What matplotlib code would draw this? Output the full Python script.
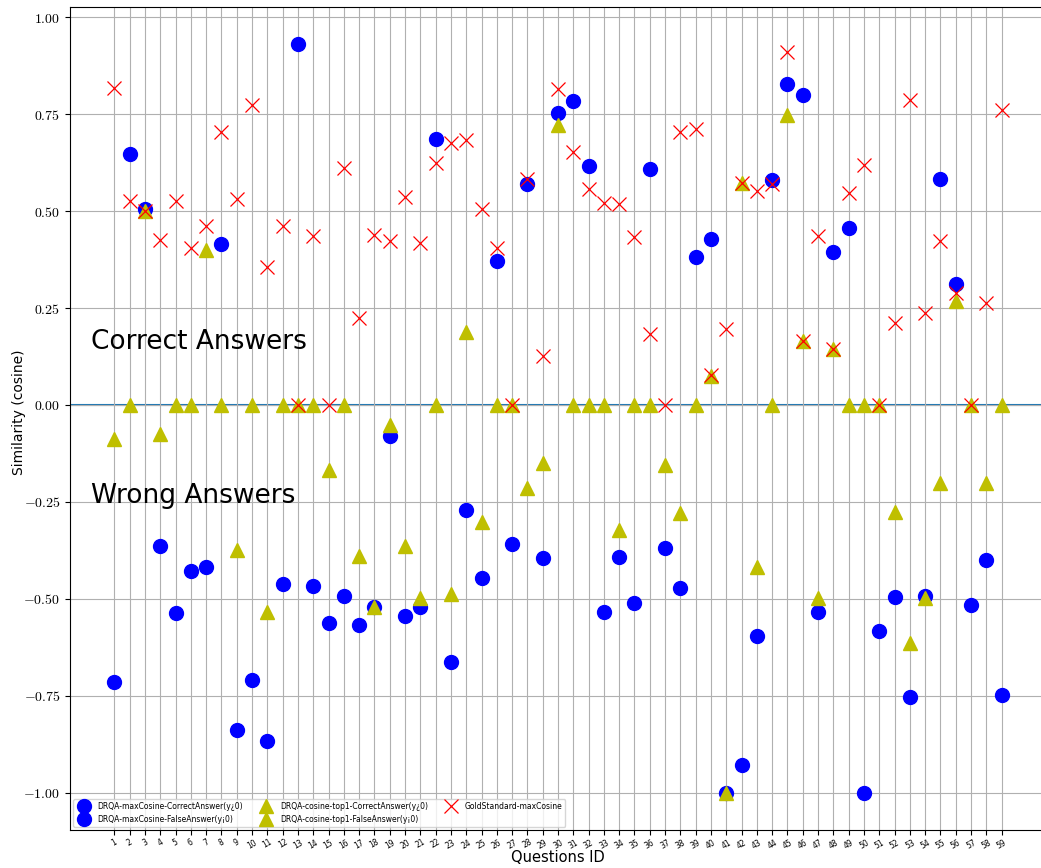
import numpy as np
import matplotlib
matplotlib.use("Agg")
import matplotlib.pyplot as plt

plt.rcParams['mathtext.fontset'] = 'cm'

questions = list(range(1, 60))

maxcos = [-0.716, 0.648, 0.505, -0.365, -0.536, -0.429, -0.417, 0.415, -0.838, -0.710,
          -0.867, -0.461, 0.930, -0.467, -0.563, -0.494, -0.567, -0.521, -0.081, -0.545,
          -0.520, 0.687, -0.664, -0.271, -0.447, 0.370, -0.360, 0.569, -0.395, 0.753,
          0.783, 0.616, -0.535, -0.392, -0.510, 0.608, -0.368, -0.473, 0.381, 0.429,
          -1.000, -0.930, -0.595, 0.579, 0.829, 0.799, -0.535, 0.394, 0.456, -1.000,
          -0.582, -0.496, -0.754, -0.494, 0.582, 0.311, -0.515, -0.399, -0.748]

top1 = [-0.087, 0.0, 0.500, -0.074, 0.0, 0.0, 0.400, 0.0, -0.373, 0.0,
        -0.533, 0.0, 0.0, 0.0, -0.169, 0.0, -0.389, -0.520, -0.052, -0.363,
        -0.499, 0.0, -0.488, 0.189, -0.302, 0.0, 0.0, -0.215, -0.151, 0.721,
        0.0, 0.0, 0.0, -0.323, 0.0, 0.0, -0.155, -0.280, 0.0, 0.075,
        -1.000, 0.573, -0.418, 0.0, 0.749, 0.165, -0.498, 0.144, 0.0, 0.0,
        0.0, -0.277, -0.614, -0.498, -0.202, 0.268, 0.0, -0.202, 0.0]

gold = [0.817, 0.525, 0.500, 0.425, 0.527, 0.406, 0.461, 0.703, 0.531, 0.773,
        0.356, 0.461, 0.0, 0.437, 0.0, 0.612, 0.225, 0.439, 0.424, 0.537,
        0.417, 0.623, 0.675, 0.684, 0.506, 0.405, 0.0, 0.582, 0.127, 0.814,
        0.652, 0.558, 0.520, 0.518, 0.432, 0.184, 0.0, 0.704, 0.711, 0.077,
        0.195, 0.573, 0.551, 0.569, 0.910, 0.165, 0.435, 0.144, 0.546, 0.619,
        0.0, 0.211, 0.786, 0.238, 0.423, 0.290, 0.0, 0.264, 0.762]

labels = ["DRQA-maxCosine-CorrectAnswer(y¿0)", "DRQA-maxCosine-FalseAnswer(y¡0)",
          "DRQA-cosine-top1-CorrectAnswer(y¿0)", "DRQA-cosine-top1-FalseAnswer(y¡0)",
          "GoldStandard-maxCosine"]

q = np.array(questions)
mc = np.array(maxcos)
t1 = np.array(top1)
gs = np.array(gold)

W, H = 1041, 868
fig = plt.figure(figsize=(W / 100, H / 100), dpi=100)
ax = fig.add_axes([70 / W, (H - 830) / H, (1046 - 70) / W, (830 - 7) / H])

ax.axhline(0, color='#1f77b4', lw=1.5, zorder=1.5)

ax.plot(q, np.where(mc > 0, mc, np.nan), 'bo', ms=10, label=labels[0])
ax.plot(q, np.where(mc < 0, mc, np.nan), 'bo', ms=10, label=labels[1])
ax.plot(q, np.where(t1 >= 0, t1, np.nan), 'y^', ms=10.5, label=labels[2])
ax.plot(q, np.where(t1 < 0, t1, np.nan), 'y^', ms=10.5, label=labels[3])
ax.plot(q, gs, 'rx', ms=10, mew=0.9, label=labels[4])

ax.set_xticks(questions)
ax.set_xticklabels([str(v) for v in questions], fontsize=5.5, rotation=30)
ax.tick_params(axis='x', pad=2)
yt = [-1.0, -0.75, -0.5, -0.25, 0.0, 0.25, 0.5, 0.75, 1.0]
ax.set_yticks(yt)
ax.set_yticklabels([r'$%s$' % ('%.2f' % v) for v in yt], fontsize=10)
ax.grid(True, color='#b0b0b0', lw=0.8)

ax.text(-0.5, 0.145, "Correct Answers", fontsize=19)
ax.text(-0.5, -0.252, "Wrong Answers", fontsize=19)

ax.set_xlabel("Questions ID", fontsize=10.5)
ax.xaxis.set_label_coords(0.5, -0.024)
ax.set_ylabel("Similarity (cosine)", fontsize=10)
ax.yaxis.set_label_coords(-0.052, 0.508)
ax.yaxis.label.set_va('center')

ax.legend(loc='lower left', ncol=3, fontsize=5.5, borderaxespad=0.4)

fig.savefig("out.png", dpi=100)
